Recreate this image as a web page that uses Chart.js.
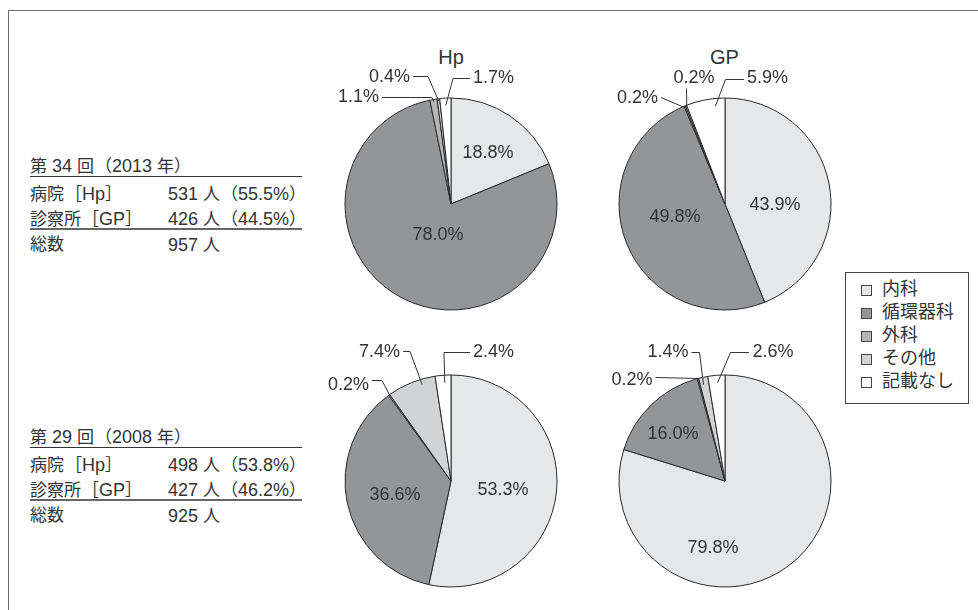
<!DOCTYPE html>
<html lang="ja">
<head>
<meta charset="utf-8">
<title>診療科別の内訳</title>
<script src="https://cdn.jsdelivr.net/npm/chart.js@4/dist/chart.umd.min.js"></script>
<style>
  html, body { margin: 0; padding: 0; background: #fff; }
  #page {
    position: relative; width: 978px; height: 610px; overflow: hidden;
    font-family: "Liberation Sans", "Noto Sans CJK JP", sans-serif; color: #333;
  }
  #frame {
    position: absolute; left: 8px; top: 10px; right: -4px; bottom: -4px;
    border-top: 1px solid #6d6d6d; border-left: 1px solid #6d6d6d;
  }
  canvas.pie { position: absolute; }
  .title { position: absolute; font-size: 20px; line-height: 24px; transform: translateX(-50%); white-space: nowrap; }
  .tline { position: absolute; font-size: 17px; line-height: 22px; white-space: nowrap; }
  .tline .lat { font-size: 18px; }
  .br { display: inline-block; width: 18px; font-family: "Noto Sans CJK JP", sans-serif; }
  .br.open { text-align: right; }
  .br.close { text-align: left; }
  .rule { position: absolute; left: 30px; width: 272px; height: 0; }
  #legend {
    position: absolute; left: 845px; top: 272px; width: 124px; height: 132px;
    border: 1px solid #444; box-sizing: border-box;
  }
  .lg-item { position: absolute; left: 15px; font-size: 18px; line-height: 22px; white-space: nowrap; }
  .lg-box {
    display: inline-block; width: 11px; height: 11px; border: 1px solid #444;
    box-sizing: border-box; margin-right: 10px; vertical-align: -1px;
  }
</style>
</head>
<body>
<div id="page">
  <div id="frame"></div>
  <div class="title" style="left:451px; top:45px;">Hp</div>
  <div class="title" style="left:724.5px; top:45px;">GP</div>
  <div id="tables"></div>
  <div id="legend"></div>
</div>
<script>
// Departments and shares (%) of respondents for each survey and facility type
const departments = ['内科', '循環器科', '外科', 'その他', '記載なし'];
const hp2013 = [18.8, 78.0, 1.1, 0.4, 1.7];
const gp2013 = [43.9, 49.8, 0.2, 0.2, 5.9];
const hp2008 = [53.3, 36.6, 0.2, 7.4, 2.4];
const gp2008 = [79.8, 16.0, 0.2, 1.4, 2.6];

// Respondent counts per survey
const surveyNames = ['第 34 回（2013 年）', '第 29 回（2008 年）'];
const hpCounts = [531, 498];
const hpShares = [55.5, 53.8];
const gpCounts = [426, 427];
const gpShares = [44.5, 46.2];
const totals = [957, 925];

const sectorColors = ['#e6e7e8', '#939598', '#b3b5b7', '#d2d3d5', '#ffffff'];
const inkColor = '#333333';
const pieRadius = 106;

// Where each slice's label sits, relative to the pie centre.
// Small slices get a leader line ending at fraction t of the slice, at r × radius.
const pies = [
  { values: hp2013, cx: 451, cy: 204, labels: [
    { inside: [37, -51] },
    { inside: [-13, 31] },
    { text: [-72, -107], align: 'right', path: [[-69, -107], [-19, -107]], t: 0.5, r: 0.98 },
    { text: [-41, -127], align: 'right', path: [[-38, -128], [-23, -128]], t: 0.5, r: 0.98 },
    { text: [22, -126], align: 'left', path: [[19, -126], [2, -126]], t: 0.5, r: 0.93 }
  ]},
  { values: gp2013, cx: 724.5, cy: 204, labels: [
    { inside: [50, 1] },
    { inside: [-50, 13] },
    { text: [-67, -106], align: 'right', path: [[-64, -107]], t: 0.5, r: 0.98 },
    { text: [-31, -126], align: 'center', path: [[-38.5, -116]], t: 0.5, r: 0.98 },
    { text: [22, -126], align: 'left', path: [[19, -125], [0.5, -125]], t: 0.74, r: 0.93 }
  ]},
  { values: hp2008, cx: 451, cy: 481, labels: [
    { inside: [52, 9] },
    { inside: [-56, 14] },
    { text: [-82, -96], align: 'right', path: [[-79, -101], [-69, -101]], t: 0.5, r: 0.98 },
    { text: [-51, -129], align: 'right', path: [[-48, -130], [-41, -130]], t: 0.7, r: 0.95 },
    { text: [22, -129], align: 'left', path: [[19, -129], [-7, -129]], t: 0.58, r: 0.93 }
  ]},
  { values: gp2008, cx: 724.5, cy: 481, labels: [
    { inside: [-12, 67] },
    { inside: [-52, -47] },
    { text: [-72.5, -101], align: 'right', path: [[-69.5, -104]], t: 0.5, r: 1.0 },
    { text: [-36.5, -129], align: 'right', path: [[-33.5, -129], [-25.5, -129]], t: 0.36, r: 0.93 },
    { text: [27.5, -129], align: 'left', path: [[24, -129], [5.5, -129]], t: 0.54, r: 0.93 }
  ]}
];

// Draws the percentage labels and leader lines for one pie
const sliceLabels = {
  id: 'sliceLabels',
  afterDatasetsDraw(chart, args, opts) {
    const ctx = chart.ctx;
    const meta = chart.getDatasetMeta(0);
    const values = chart.data.datasets[0].data;
    const layout = opts.layout;
    ctx.save();
    ctx.font = '18px "Liberation Sans", Arial, sans-serif';
    ctx.fillStyle = inkColor;
    ctx.strokeStyle = inkColor;
    ctx.lineWidth = 1;
    ctx.textBaseline = 'middle';
    meta.data.forEach((arc, i) => {
      const spec = layout[i];
      const { x, y, startAngle, endAngle, outerRadius } = arc.getProps(['x', 'y', 'startAngle', 'endAngle', 'outerRadius'], true);
      const txt = values[i].toFixed(1) + '%';
      if (spec.inside) {
        ctx.textAlign = 'center';
        ctx.fillText(txt, x + spec.inside[0], y + spec.inside[1]);
        return;
      }
      const a = startAngle + spec.t * (endAngle - startAngle);
      const ex = x + Math.cos(a) * outerRadius * spec.r;
      const ey = y + Math.sin(a) * outerRadius * spec.r;
      ctx.beginPath();
      spec.path.forEach((p, k) => {
        const px = x + p[0], py = Math.round(y + p[1]) + 0.5;
        if (k === 0) ctx.moveTo(px, py); else ctx.lineTo(px, py);
      });
      ctx.lineTo(ex, ey);
      ctx.stroke();
      ctx.textAlign = spec.align;
      ctx.fillText(txt, x + spec.text[0], y + spec.text[1]);
    });
    ctx.restore();
  }
};

const page = document.getElementById('page');
const half = 150;
pies.forEach(p => {
  const cv = document.createElement('canvas');
  cv.className = 'pie';
  cv.width = half * 2; cv.height = half * 2;
  cv.style.left = (p.cx - half) + 'px';
  cv.style.top = (p.cy - half) + 'px';
  page.appendChild(cv);
  new Chart(cv, {
    type: 'pie',
    data: {
      labels: departments,
      datasets: [{
        data: p.values,
        backgroundColor: sectorColors,
        borderColor: '#2a2a2a',
        borderWidth: 1
      }]
    },
    options: {
      responsive: false,
      animation: false,
      events: [],
      radius: pieRadius,
      layout: { padding: 0 },
      plugins: {
        legend: { display: false },
        tooltip: { enabled: false },
        sliceLabels: { layout: p.labels }
      }
    },
    plugins: [sliceLabels]
  });
});

// Summary tables beside each row of pies.
// Latin runs are set slightly larger; full-width brackets keep a full em.
const tableTops = [165, 436];
const tables = document.getElementById('tables');
function addText(text, x, yc) {
  const d = document.createElement('div');
  d.className = 'tline';
  const parts = text.match(/[\x20-\x7e]+|[（［]|[）］]|[^\x20-\x7e（［）］]+/g);
  parts.forEach(part => {
    const s = document.createElement('span');
    if (/^[\x20-\x7e]+$/.test(part)) s.className = 'lat';
    else if (part === '（' || part === '［') s.className = 'br open';
    else if (part === '）' || part === '］') s.className = 'br close';
    s.textContent = part;
    d.appendChild(s);
  });
  d.style.left = x + 'px';
  d.style.top = (yc - 11) + 'px';
  tables.appendChild(d);
}
function addRule(y, w, color) {
  const r = document.createElement('div');
  r.className = 'rule';
  r.style.top = y + 'px';
  r.style.borderTop = w + 'px solid ' + color;
  tables.appendChild(r);
}
surveyNames.forEach((name, i) => {
  const y0 = tableTops[i];
  addText(name, 30, y0);
  addRule(y0 + 11, 1, '#333');
  addText('病院［Hp］', 30, y0 + 28);
  addText(hpCounts[i] + ' 人（' + hpShares[i].toFixed(1) + '%）', 168, y0 + 28);
  addText('診察所［GP］', 30, y0 + 53);
  addText(gpCounts[i] + ' 人（' + gpShares[i].toFixed(1) + '%）', 168, y0 + 53);
  addRule(y0 + 63, 2, '#666');
  addText('総数', 30, y0 + 80);
  addText(totals[i] + ' 人', 168, y0 + 80);
});

// Legend
const legend = document.getElementById('legend');
departments.forEach((name, i) => {
  const item = document.createElement('div');
  item.className = 'lg-item';
  item.style.top = (5 + i * 23) + 'px';
  const box = document.createElement('span');
  box.className = 'lg-box';
  box.style.background = sectorColors[i];
  item.appendChild(box);
  item.appendChild(document.createTextNode(name));
  legend.appendChild(item);
});
</script>
</body>
</html>
